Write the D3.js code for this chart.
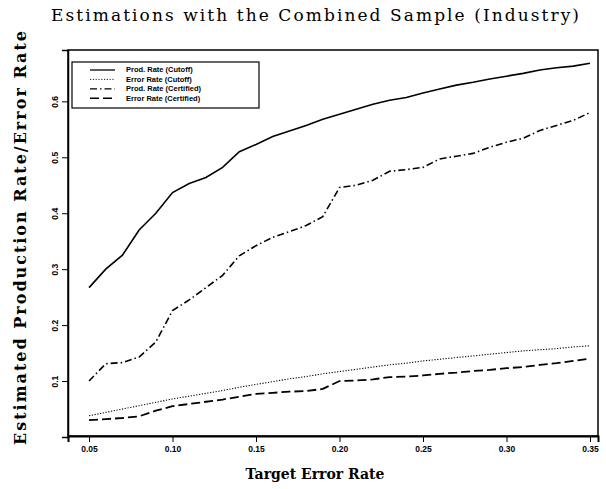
<!DOCTYPE html>
<html>
<head>
<meta charset="utf-8">
<script src="https://cdn.jsdelivr.net/npm/d3@7"></script>
<style>
  body { margin: 0; background: #fff; }
  svg { display: block; }
</style>
</head>
<body>
<div id="chart"></div>
<script>
var width = 606, height = 489;

// target error rates
var targets = [0.05, 0.06, 0.07, 0.08, 0.09, 0.10, 0.11, 0.12, 0.13, 0.14, 0.15,
  0.16, 0.17, 0.18, 0.19, 0.20, 0.21, 0.22, 0.23, 0.24, 0.25,
  0.26, 0.27, 0.28, 0.29, 0.30, 0.31, 0.32, 0.33, 0.34, 0.35];

var prodCutoff = [0.267, 0.300, 0.325, 0.370, 0.400, 0.437, 0.453, 0.464, 0.482, 0.510, 0.523,
  0.537, 0.547, 0.557, 0.568, 0.577, 0.586, 0.595, 0.602, 0.607, 0.615,
  0.622, 0.629, 0.634, 0.640, 0.645, 0.650, 0.656, 0.660, 0.663, 0.668];
var errCutoff = [0.038, 0.044, 0.050, 0.056, 0.062, 0.068, 0.073, 0.078, 0.083, 0.089, 0.094,
  0.099, 0.104, 0.108, 0.113, 0.117, 0.121, 0.125, 0.129, 0.132, 0.136,
  0.139, 0.142, 0.145, 0.148, 0.151, 0.154, 0.156, 0.158, 0.161, 0.163];
var prodCertified = [0.100, 0.131, 0.133, 0.143, 0.170, 0.226, 0.245, 0.267, 0.289, 0.324, 0.342,
  0.357, 0.367, 0.378, 0.394, 0.446, 0.450, 0.459, 0.475, 0.478, 0.482,
  0.497, 0.502, 0.507, 0.518, 0.527, 0.534, 0.548, 0.557, 0.566, 0.580];
var errCertified = [0.030, 0.032, 0.034, 0.037, 0.047, 0.055, 0.059, 0.063, 0.067, 0.072, 0.077,
  0.079, 0.081, 0.082, 0.086, 0.100, 0.101, 0.103, 0.107, 0.108, 0.110,
  0.113, 0.115, 0.118, 0.120, 0.123, 0.125, 0.129, 0.132, 0.136, 0.140];

var seriesNames = ['Prod. Rate (Cutoff)', 'Error Rate (Cutoff)', 'Prod. Rate (Certified)', 'Error Rate (Certified)'];
var xTicks = [0.05, 0.10, 0.15, 0.20, 0.25, 0.30, 0.35];
var yTicks = [0.1, 0.2, 0.3, 0.4, 0.5, 0.6];

var series = [
  { name: seriesNames[0], values: prodCutoff, dash: null, w: 1.6 },
  { name: seriesNames[1], values: errCutoff, dash: '1.2,1.6', w: 1.1 },
  { name: seriesNames[2], values: prodCertified, dash: '7,3,1.5,3', w: 1.6 },
  { name: seriesNames[3], values: errCertified, dash: '9,4', w: 1.8 }
];

// plot box (window.top is read-only, so no "top" here)
var boxL = 68, boxR = 598, boxT = 50, boxB = 436;

var x = d3.scaleLinear().domain([0.0374, 0.3548]).range([boxL, boxR]);
var y = d3.scaleLinear().domain([0, 0.6918]).range([437, boxT]);

var svg = d3.select('#chart').append('svg')
  .attr('width', width)
  .attr('height', height);

// title
svg.append('text')
  .attr('x', 315).attr('y', 21)
  .attr('text-anchor', 'middle')
  .attr('textLength', 528)
  .attr('lengthAdjust', 'spacing')
  .style('font-family', 'DejaVu Serif')
  .style('font-size', '17px')
  .text('Estimations with the Combined Sample (Industry)');

// frame
svg.append('rect')
  .attr('x', boxL).attr('y', boxT)
  .attr('width', boxR - boxL).attr('height', boxB - boxT)
  .attr('fill', 'none').attr('stroke', '#000').attr('stroke-width', 1.5);

// x axis
var xAxis = svg.append('g')
  .attr('transform', 'translate(0,' + boxB + ')')
  .call(d3.axisBottom(x).tickValues(xTicks).tickSize(6).tickPadding(4).tickFormat(d3.format('.2f')));
xAxis.select('.domain').attr('stroke-width', 2);
xAxis.selectAll('text')
  .style('font-family', 'Liberation Sans')
  .style('font-weight', 'bold')
  .style('font-size', '8.5px');

// y axis
var yAxis = svg.append('g')
  .attr('transform', 'translate(' + boxL + ',0)')
  .call(d3.axisLeft(y).tickValues(yTicks).tickSize(6).tickFormat(d3.format('.1f')));
yAxis.select('.domain').attr('stroke-width', 1.5);
yAxis.selectAll('.tick text')
  .attr('x', null).attr('dy', null)
  .attr('transform', 'translate(-10,0) rotate(-90)')
  .attr('text-anchor', 'middle')
  .style('font-family', 'Liberation Sans')
  .style('font-weight', 'bold')
  .style('font-size', '8.5px');

// lines
var line = d3.line()
  .x(function(d, i) { return x(targets[i]); })
  .y(function(d) { return y(d); });

svg.selectAll('path.series')
  .data(series)
  .enter().append('path')
  .attr('class', 'series')
  .attr('d', function(d) { return line(d.values); })
  .attr('fill', 'none')
  .attr('stroke', '#000')
  .attr('stroke-width', function(d) { return d.w; })
  .attr('stroke-dasharray', function(d) { return d.dash; });

// legend
var lg = svg.append('g');
lg.append('rect')
  .attr('x', 72).attr('y', 62)
  .attr('width', 187).attr('height', 46)
  .attr('fill', '#fff').attr('stroke', '#000').attr('stroke-width', 1.2);

var items = lg.selectAll('g.item')
  .data(series)
  .enter().append('g')
  .attr('class', 'item')
  .attr('transform', function(d, i) { return 'translate(0,' + (70 + i * 9.4) + ')'; });

items.append('line')
  .attr('x1', 90).attr('x2', 115)
  .attr('stroke', '#000')
  .attr('stroke-width', function(d) { return d.w * 0.8; })
  .attr('stroke-dasharray', function(d) { return d.dash; });

items.append('text')
  .attr('x', 126).attr('dy', '0.33em')
  .style('font-family', 'Liberation Sans')
  .style('font-weight', 'bold')
  .style('font-size', '7.5px')
  .text(function(d) { return d.name; });

// axis titles
svg.append('text')
  .attr('x', 315).attr('y', 479)
  .attr('text-anchor', 'middle')
  .style('font-family', 'DejaVu Serif')
  .style('font-weight', 'bold')
  .style('font-size', '14px')
  .text('Target Error Rate');

svg.append('text')
  .attr('transform', 'translate(26,238) rotate(-90)')
  .attr('text-anchor', 'middle')
  .attr('textLength', 414)
  .attr('lengthAdjust', 'spacing')
  .style('font-family', 'DejaVu Serif')
  .style('font-weight', 'bold')
  .style('font-size', '16px')
  .text('Estimated Production Rate/Error Rate');
</script>
</body>
</html>
